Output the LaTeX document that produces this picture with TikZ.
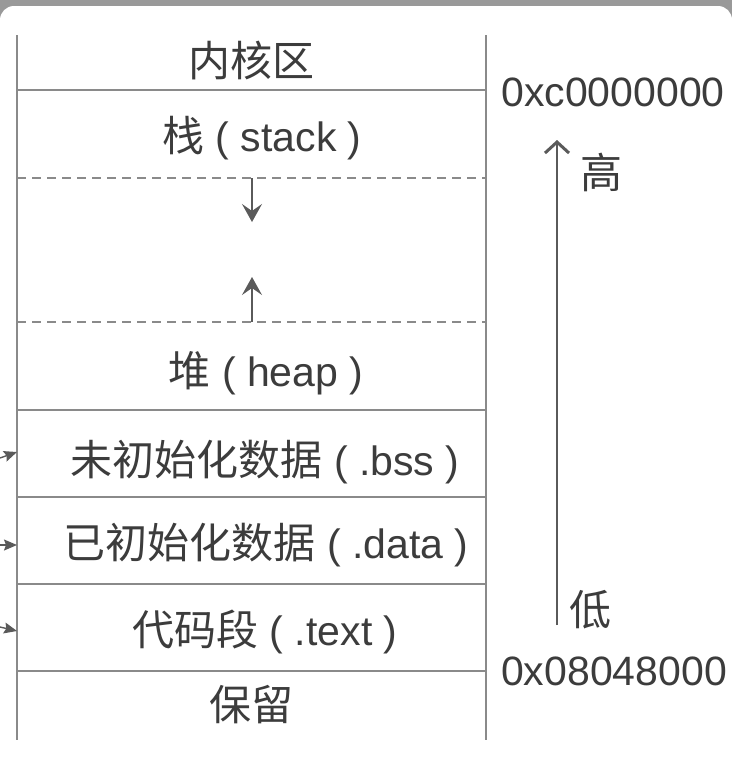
\documentclass[tikz,border=0pt]{standalone}
\usepackage{fontspec}
\setmainfont{Liberation Sans}
\newfontfamily\cjk{Noto Sans CJK SC}
\usetikzlibrary{arrows.meta}
\definecolor{linegray}{HTML}{8A8A8A}
\definecolor{txtgray}{HTML}{3C3C3C}
\definecolor{arrgray}{HTML}{5A5A5A}
\newcommand{\zh}[1]{{\fontsize{42}{44}\selectfont\cjk #1}}
\tikzset{
  lbl/.style={text=txtgray, font=\fontsize{41}{43}\selectfont, inner sep=0pt},
  solidline/.style={draw=linegray, line width=1.6pt},
  dashline/.style={draw=linegray, line width=1.8pt, dash pattern=on 9pt off 6pt},
  growarrow/.style={draw=arrgray, line width=1.5pt, -{Stealth[length=18pt,width=20pt,inset=7pt]}},
  sidearrow/.style={draw=arrgray, line width=1.4pt, -{Stealth[length=13pt,width=11pt,inset=2pt]}},
  addrarrow/.style={draw=arrgray, line width=1.6pt, -{Straight Barb[length=11pt,width=24pt,line width=3pt]}}
}
\begin{document}
\begin{tikzpicture}[x=1pt,y=-1pt]
\useasboundingbox (0,0) rectangle (732,782);
% screenshot frame
\fill[gray!80] (0,0) rectangle (732,30);
\fill[white, rounded corners=14pt] (0,6) rectangle (732,800);
\fill[white] (0,40) rectangle (732,782);
% columns
\coordinate (tl) at (17,35);
\coordinate (bl) at (17,740);
\coordinate (tr) at (486,35);
\coordinate (br) at (486,740);
\draw[solidline] (tl) -- (bl);
\draw[solidline] (tr) -- (br);
% separators
\foreach \yy/\nm in {90/a,410/d,497/e,584/f,671/g}{
  \coordinate (\nm L) at (17,\yy);
  \coordinate (\nm R) at (486,\yy);
  \draw[solidline] (\nm L) -- (\nm R);
}
\coordinate (bL) at (17,178); \coordinate (bR) at (486,178);
\coordinate (cL) at (17,322); \coordinate (cR) at (486,322);
\draw[dashline] (bL) -- (bR);
\draw[dashline] (cL) -- (cR);
% labels
\node[lbl] (kern) at (251,60) {\zh{内核区}};
\node[lbl] (stack) at (262,138) {\zh{栈} ( stack )};
\node[lbl] (heap) at (266,373) {\zh{堆} ( heap )};
\node[lbl] (bss) at (265,462) {\zh{未初始化数据} ( .bss )};
\node[lbl] (data) at (266,545) {\zh{已初始化数据} ( .data )};
\node[lbl] (text) at (265,632) {\zh{代码段} ( .text )};
\node[lbl] (resv) at (251,705) {\zh{保留}};
% growth arrows
\coordinate (sd0) at (252,178); \coordinate (sd1) at (252,222);
\coordinate (hu0) at (252,322); \coordinate (hu1) at (252,277);
\draw[growarrow] (sd0) -- (sd1);
\draw[growarrow] (hu0) -- (hu1);
% side arrows
\coordinate (s1a) at (0,458); \coordinate (s1b) at (17,452);
\coordinate (s2a) at (0,545); \coordinate (s2b) at (17,545);
\coordinate (s3a) at (0,627); \coordinate (s3b) at (17,631);
\draw[sidearrow] (s1a) -- (s1b);
\draw[sidearrow] (s2a) -- (s2b);
\draw[sidearrow] (s3a) -- (s3b);
% addresses
\node[lbl] (hiaddr) at (613,92) {0xc0000000};
\node[lbl] (loaddr) at (614,671) {0x08048000};
\node[lbl] (hi) at (601,172) {\zh{高}};
\node[lbl] (lo) at (590,610) {\zh{低}};
\coordinate (ar0) at (557,625); \coordinate (ar1) at (557,140);
\draw[addrarrow] (ar0) -- (ar1);
\end{tikzpicture}
\end{document}
